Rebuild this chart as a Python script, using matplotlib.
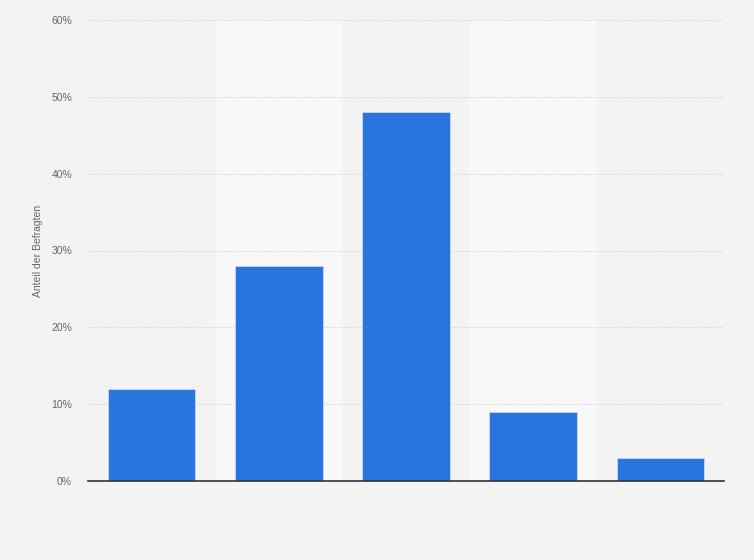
import matplotlib
matplotlib.use("Agg")
import matplotlib.pyplot as plt
from matplotlib.ticker import FuncFormatter

categories = ["A", "B", "C", "D", "E"]
values = [12, 28, 48, 9, 3]
yticks = [0, 10, 20, 30, 40, 50, 60]

plt.rcParams['font.family'] = ['Liberation Sans', 'DejaVu Sans']

fig = plt.figure(figsize=(7.54, 5.60), dpi=100)
fig.patch.set_facecolor('#f3f3f3')
ax = fig.add_axes([88/754, 79/560, 636/754, 461/560])
ax.set_facecolor('#f3f3f3')

x = list(range(len(categories)))
for i in x:
    if i % 2 == 1:
        ax.axvspan(i - 0.5, i + 0.5, color='#f8f8f8', zorder=0, lw=0)

ax.bar(x, values, width=0.69, color='#2876dd', edgecolor='#c9d9f0', linewidth=0.6, zorder=3)

ax.set_xlim(-0.5, len(categories) - 0.5)
ax.set_ylim(0, 60)
ax.set_yticks(yticks)
ax.yaxis.set_major_formatter(FuncFormatter(lambda v, p: f"{int(v)}%"))
ax.set_xticks([])
ax.grid(axis='y', color='#d8d8d8', linestyle=(0, (1, 1)), linewidth=0.8, zorder=1)
ax.tick_params(axis='y', length=0, labelsize=7.5, labelcolor='#666666', pad=11.5)
for s in ['top', 'right', 'left']:
    ax.spines[s].set_visible(False)
ax.spines['bottom'].set_color('#333333')
ax.spines['bottom'].set_linewidth(1.2)
ax.spines['bottom'].set_zorder(4)

ax.set_ylabel("Anteil der Befragten", fontsize=7.5, color='#666666', labelpad=6)

fig.savefig("out.png", dpi=100, facecolor=fig.get_facecolor())
